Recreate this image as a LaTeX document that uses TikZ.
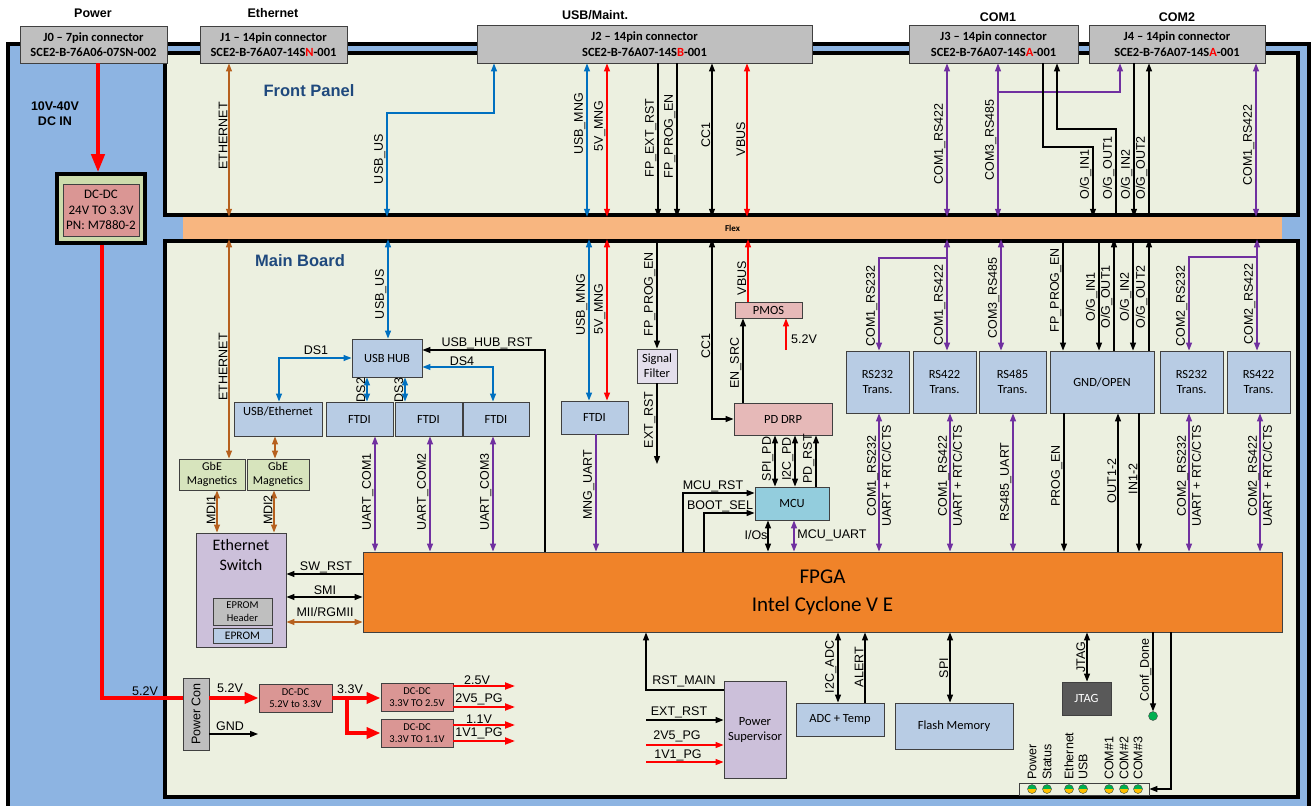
\documentclass[tikz,border=0pt]{standalone}
\usepackage{fontspec}
\setmainfont{Carlito}
\newfontfamily\arialf{Liberation Sans}
\usepackage{tikz}
\usetikzlibrary{arrows.meta,calc}

\definecolor{framebl}{RGB}{141,180,226}
\definecolor{panelbg}{RGB}{236,240,224}
\definecolor{flexor}{RGB}{248,182,128}
\definecolor{fpgaor}{RGB}{240,131,41}
\definecolor{boxbl}{RGB}{184,204,228}
\definecolor{boxpk}{RGB}{230,185,184}
\definecolor{dcpk}{RGB}{218,150,148}
\definecolor{boxlv}{RGB}{204,192,218}
\definecolor{boxlvl}{RGB}{228,223,236}
\definecolor{boxgn}{RGB}{215,228,189}
\definecolor{dcgn}{RGB}{205,220,172}
\definecolor{boxgy}{RGB}{191,191,191}
\definecolor{mcubl}{RGB}{147,205,221}
\definecolor{sigbr}{RGB}{182,96,30}
\definecolor{sigpu}{RGB}{112,48,160}
\definecolor{sigbl}{RGB}{0,112,192}
\definecolor{titlebl}{RGB}{31,73,125}
\definecolor{ledgn}{RGB}{0,176,80}
\definecolor{ledyl}{RGB}{255,192,0}

\newcommand\sigfont{\arialf\fontsize{12.5}{15}\selectfont}
\newcommand\boxfont{\fontsize{12.5}{15}\selectfont}
\newcommand\smallbox{\fontsize{10.5}{12.5}\selectfont}
\newcommand\jfont{\bfseries\fontsize{12.5}{15.5}\selectfont}
\newcommand\ttlfont{\arialf\bfseries\fontsize{12.5}{15}\selectfont}
\newcommand\bigttl{\arialf\bfseries\fontsize{16.5}{20}\selectfont}

\begin{document}
\begin{tikzpicture}[x=1pt,y=-1pt,>={Triangle[length=8pt,width=6pt]}]
\tikzset{
	panel/.style = {draw, line width=3.5pt, fill=panelbg, inner sep=0},
	box/.style = {draw=black!75, line width=0.9pt, inner sep=1pt, align=center, font=\boxfont},
	sz/.style 2 args = {minimum width=#1, minimum height=#2},
	jbox/.style = {box, fill=boxgy, font=\jfont},
	blbox/.style = {box, fill=boxbl},
	pkbox/.style = {box, fill=boxpk},
	dcbox/.style = {box, fill=dcpk, font=\smallbox},
	lvbox/.style = {box, fill=boxlv},
	gnbox/.style = {box, fill=boxgn, font=\fontsize{12}{14}\selectfont},
	sig/.style = {line width=1.2pt},
	bsig/.style = {sig, sigbl},
	rsig/.style = {sig, red},
	psig/.style = {sig, sigpu},
	brsig/.style = {sig, sigbr},
	pwr/.style = {red, line width=4pt},
	ptip/.style = {-{Triangle[length=14pt,width=11pt]}},
	rtip/.style = {red, line width=2pt, -{Triangle[length=10pt,width=7pt]}},
	vl/.style = {rotate=90, anchor=south, inner sep=1.5pt, font=\sigfont},
	hl/.style = {inner sep=1pt, font=\sigfont},
	ttl/.style = {font=\ttlfont, align=center},
	led/.style = {circle, draw=black!70, fill=ledgn, minimum size=9pt, inner sep=0,
		path picture={\fill[ledyl] (path picture bounding box.west) rectangle (path picture bounding box.south east);}},
}

\useasboundingbox (0,0) rectangle (1313,805);
\clip (0,0) rectangle (1313,805);
\fill[white] (0,0) rectangle (1313,805);

% chassis, front panel, flex, main board
\draw[line width=3.5pt, fill=framebl] (8,44) rectangle (1309,840);
\node[fill=flexor, inner sep=0, sz={1099}{26}, font=\bfseries\fontsize{9}{10}\selectfont] (flex) at (732.5,228) {Flex};
\node[panel, sz={1133}{162}] (fp) at (731.5,134) {};
\node[panel, sz={1133}{556}] (mb) at (731.5,519) {};
\node[font=\bigttl, text=titlebl] (fptitle) at (309,91) {Front Panel};
\node[font=\bigttl, text=titlebl] (mbtitle) at (300,261) {Main Board};

% connectors on top
\node[ttl] (tpow) at (93,13) {Power};
\node[ttl] (teth) at (273,13) {Ethernet};
\node[ttl] (tusb) at (595,15) {USB/Maint.};
\node[ttl] (tcom1) at (998,17) {COM1};
\node[ttl] (tcom2) at (1177,17) {COM2};
\node[jbox, sz={147}{37}] (j0) at (93.5,44.5) {J0 – 7pin connector\\SCE2-B-76A06-07SN-002};
\node[jbox, sz={147}{37}] (j1) at (273.5,44.5) {J1 – 14pin connector\\SCE2-B-76A07-14S\textcolor{red}{N}-001};
\node[jbox, sz={335}{38}] (j2) at (644.5,44) {J2 – 14pin connector\\SCE2-B-76A07-14S\textcolor{red}{B}-001};
\node[jbox, sz={169}{38}] (j3) at (993.5,44) {J3 – 14pin connector\\SCE2-B-76A07-14S\textcolor{red}{A}-001};
\node[jbox, sz={176}{38}] (j4) at (1177,44) {J4 – 14pin connector\\SCE2-B-76A07-14S\textcolor{red}{A}-001};

% power input
\node[ttl] (vin) at (55,114) {10V-40V\\DC IN};
\node[draw, line width=3.5pt, fill=dcgn, sz={88}{69}] (dcin) at (101,208.5) {};
\node[box, fill=dcpk, sz={76}{52}, font=\fontsize{13}{15.5}\selectfont] (dcinm) at (101,210) {DC-DC\\24V TO 3.3V\\PN: M7880-2};
\draw[pwr, -{Triangle[length=18pt,width=13pt]}] (98,0 |- j0.south) -- (98,0 |- dcin.north);

% main board blocks
\node[blbox, sz={70}{38}] (hub) at (387,358) {USB HUB};
\node[blbox, sz={88}{34}, text depth=16pt] (usbeth) at (278,419) {USB/Ethernet};
\node[blbox, sz={67}{34}] (ftdi1) at (359.5,419) {FTDI};
\node[blbox, sz={67}{34}] (ftdi2) at (428.5,419) {FTDI};
\node[blbox, sz={66}{34}] (ftdi3) at (496,419) {FTDI};
\node[blbox, sz={67}{33}] (ftdim) at (594.5,417.5) {FTDI};
\node[gnbox, sz={66}{31}] (gbe1) at (212,474.5) {GbE\\Magnetics};
\node[gnbox, sz={62}{31}] (gbe2) at (278,474.5) {GbE\\Magnetics};
\node[lvbox, sz={90}{114}] (ethsw) at (241,590) {};
\node[align=center, font=\fontsize{16}{20}\selectfont] (ethswt) at (241,555) {Ethernet\\Switch};
\node[box, fill=boxgy, sz={59}{27}, font=\fontsize{10.5}{12.5}\selectfont] (eprh) at (242.5,611.5) {EPROM\\Header};
\node[blbox, sz={59}{15}, font=\fontsize{11.5}{13}\selectfont] (eprom) at (242.5,635.5) {EPROM};
\node[box, fill=boxlvl, sz={40}{34}] (sigf) at (657,366) {Signal\\Filter};
\node[pkbox, sz={67}{16}] (pmos) at (768.5,310) {PMOS};
\node[pkbox, sz={98}{32}] (pddrp) at (783,419) {PD DRP};
\node[box, fill=mcubl, sz={74}{33}] (mcu) at (792,503.5) {MCU};
\node[blbox, sz={63}{62}] (rs232a) at (877.5,382) {RS232\\Trans.};
\node[blbox, sz={63}{62}] (rs422a) at (944.5,382) {RS422\\Trans.};
\node[blbox, sz={67}{62}] (rs485) at (1012.5,382) {RS485\\Trans.};
\node[blbox, sz={104}{62}] (gndopen) at (1102,382) {GND/OPEN};
\node[blbox, sz={63}{62}] (rs232b) at (1191.5,382) {RS232\\Trans.};
\node[blbox, sz={63}{62}] (rs422b) at (1258.5,382) {RS422\\Trans.};
\node[box, fill=fpgaor, sz={919}{80}, font=\fontsize{21}{28}\selectfont] (fpga) at (822.5,592) {FPGA\\Intel Cyclone V E};
\node[box, fill=boxgy, sz={26}{72}] (pcon) at (196,714) {};
\node[rotate=90, font=\sigfont] (pcont) at (196,714) {Power Con};
\node[dcbox, sz={73}{28}] (dcdc1) at (295.5,698) {DC-DC\\5.2V to 3.3V};
\node[dcbox, sz={72}{28}] (dcdc2) at (417,697) {DC-DC\\3.3V TO 2.5V};
\node[dcbox, sz={72}{28}] (dcdc3) at (417,733) {DC-DC\\3.3V TO 1.1V};
\node[lvbox, sz={62}{97}] (psup) at (755,729.5) {Power\\Supervisor};
\node[blbox, sz={88}{33}] (adc) at (840,719.5) {ADC + Temp};
\node[blbox, sz={118}{46}] (flash) at (954,726) {Flash Memory};
\node[box, fill=black!65, text=white, sz={49}{33}] (jtag) at (1086.5,698.5) {JTAG};
\node[box, fill=panelbg, inner sep=0, sz={130}{12}] (ledbar) at (1084,789) {};
\foreach \x [count=\i] in {1032,1047,1069,1083,1109,1124,1138}
	\node[led] (led\i) at (\x,789) {};
\foreach \x/\t [count=\i] in {1032/Power,1047/Status,1069/Ethernet,1083/USB,1109/COM\#1,1124/COM\#2,1138/COM\#3}
	\node[rotate=90, anchor=west, inner sep=1pt, font=\sigfont] (ledt\i) at (\x,781) {\t};
\node[led, path picture={}] (confled) at (1153,716) {};

% free ends
\coordinate (r485br) at (998,92);
\coordinate (c1br) at (947,258);
\coordinate (c2br) at (1257,257);
\coordinate (extrst) at (657,464);
\coordinate (pmos52) at (786,350);
\coordinate (gndend) at (258,734);
\coordinate (v33br) at (347,698);
\coordinate (extin) at (646,720);
\coordinate (pg25in) at (646,745);
\coordinate (pg11in) at (646,762);
\coordinate (o25) at (515,686);
\coordinate (o25pg) at (515,707);
\coordinate (o11) at (515,725);
\coordinate (o11pg) at (515,741);

% front panel signals
\draw[brsig,<->] (229,0 |- j1.south) -- (229,0 |- fp.south);
\draw[bsig,<->] (494,0 |- j2.south) |- (387,113) -- (387,0 |- fp.south);
\draw[bsig,<->] (587,0 |- j2.south) -- (587,0 |- fp.south);
\draw[rsig,<->] (607,0 |- j2.south) -- (607,0 |- fp.south);
\draw[sig,->] (658,0 |- j2.south) -- (658,0 |- fp.south);
\draw[sig,->] (677,0 |- j2.south) -- (677,0 |- fp.south);
\draw[sig,<->] (712,0 |- j2.south) -- (712,0 |- fp.south);
\draw[rsig,<->] (747,0 |- j2.south) -- (747,0 |- fp.south);
\draw[psig,<->] (947,0 |- j3.south) -- (947,0 |- fp.south);
\draw[psig,<->] (998,0 |- j3.south) -- (998,0 |- fp.south);
\draw[psig,->] (r485br) -| (1120,0 |- j4.south);
\draw[sig,->] (1043,0 |- j3.south) |- (1093,147) -- (1093,0 |- fp.south);
\draw[sig,->] (1116,0 |- fp.south) |- (1057,129) -- (1057,0 |- j3.south);
\draw[sig,->] (1134,0 |- j4.south) -- (1134,0 |- fp.south);
\draw[sig,->] (1149,0 |- fp.south) -- (1149,0 |- j4.south);
\draw[psig,<->] (1256,0 |- j4.south) -- (1256,0 |- fp.south);

\node[vl] (l1) at (229,136) {ETHERNET};
\node[vl] (l2) at (387,159) {USB\_US};
\node[vl] (l3) at (587,124) {USB\_MNG};
\node[vl] (l4) at (607,126) {5V\_MNG};
\node[vl] (l5) at (658,138) {FP\_EXT\_RST};
\node[vl] (l6) at (677,136) {FP\_PROG\_EN};
\node[vl] (l7) at (712,135) {CC1};
\node[vl] (l8) at (747,139) {VBUS};
\node[vl] (l9) at (947,144) {COM1\_RS422};
\node[vl] (l10) at (998,140) {COM3\_RS485};
\node[vl, anchor=south west] (l11) at (1093,201) {O/G\_IN1};
\node[vl, anchor=south west] (l12) at (1116,201) {O/G\_OUT1};
\node[vl, anchor=south west] (l13) at (1134,201) {O/G\_IN2};
\node[vl, anchor=south west] (l14) at (1149,201) {O/G\_OUT2};
\node[vl] (l15) at (1256,145) {COM1\_RS422};

% main board signals, left part
\draw[brsig,<->] (229,0 |- mb.north) -- (229,0 |- gbe1.north);
\draw[brsig,<->] (275,0 |- usbeth.south) -- (275,0 |- gbe2.north);
\draw[brsig,<->] (217,0 |- gbe1.south) -- (217,0 |- ethsw.north);
\draw[brsig,<->] (274,0 |- gbe2.south) -- (274,0 |- ethsw.north);
\draw[bsig,<->] (388,0 |- mb.north) -- (388,0 |- hub.north);
\draw[bsig,<->] (hub.west) -| (279,0 |- usbeth.north);
\draw[bsig,<->] ([yshift=-9pt]hub.east) -| (493,0 |- ftdi3.north);
\draw[bsig,<->] (367,0 |- hub.south) -- (367,0 |- ftdi1.north);
\draw[bsig,<->] (405,0 |- hub.south) -- (405,0 |- ftdi2.north);
\draw[sig,->] (545,0 |- fpga.north) |- ([yshift=8pt]hub.east);
\draw[psig,<->] (375,0 |- ftdi1.south) -- (375,0 |- fpga.north);
\draw[psig,<->] (430,0 |- ftdi2.south) -- (430,0 |- fpga.north);
\draw[psig,<->] (493,0 |- ftdi3.south) -- (493,0 |- fpga.north);
\draw[sig,->] (fpga.west |- 0,574) -- (ethsw.east |- 0,574);
\draw[sig,<->] (fpga.west |- 0,597) -- (ethsw.east |- 0,597);
\draw[brsig,<->] (fpga.west |- 0,622) -- (ethsw.east |- 0,622);

\node[vl] (l16) at (229,367) {ETHERNET};
\node[vl] (l17) at (388,294) {USB\_US};
\node[vl] (l18) at (367,390) {DS2};
\node[vl] (l19) at (405,390) {DS3};
\node[vl] (l20) at (375,492) {UART\_COM1};
\node[vl] (l21) at (430,492) {UART\_COM2};
\node[vl] (l22) at (493,492) {UART\_COM3};
\node[vl] (l23) at (217,510) {MDI1};
\node[vl] (l24) at (274,510) {MDI2};
\node[hl] (l25) at (316,350) {DS1};
\node[hl] (l26) at (462,361) {DS4};
\node[hl] (l27) at (487,343) {USB\_HUB\_RST};
\node[hl] (l28) at (326,567) {SW\_RST};
\node[hl] (l29) at (325,590) {SMI};
\node[hl] (l30) at (325,612) {MII/RGMII};

% main board signals, USB/maintenance part
\draw[bsig,<->] (589,0 |- mb.north) -- (589,0 |- ftdim.north);
\draw[rsig,<->] (607,0 |- mb.north) -- (607,0 |- ftdim.north);
\draw[psig,->] (596,0 |- ftdim.south) -- (596,0 |- fpga.north);
\draw[sig,->] (657,0 |- mb.north) -- (sigf.north);
\draw[sig,->] (sigf.south) -- (extrst);
\draw[sig,<->] (712,0 |- mb.north) |- (pddrp.west);
\draw[rsig,->] (748,0 |- pmos.north) -- (748,0 |- mb.north);
\draw[rsig,->] (pmos52) -- (786,0 |- pmos.south);
\draw[sig,->] (743,0 |- pddrp.north) -- (743,0 |- pmos.south);
\draw[sig,<->] (775,0 |- mcu.north) -- (775,0 |- pddrp.south);
\draw[sig,<->] (795,0 |- mcu.north) -- (795,0 |- pddrp.south);
\draw[sig,->] (816,0 |- mcu.north) -- (816,0 |- pddrp.south);
\draw[sig,->] (683,0 |- fpga.north) |- ([yshift=10.5pt]mcu.west);
\draw[sig,->] (704,0 |- fpga.north) |- ([yshift=-9.5pt]mcu.west);
\draw[sig,<->] (768,0 |- mcu.south) -- (768,0 |- fpga.north);
\draw[psig,<->] (794,0 |- mcu.south) -- (794,0 |- fpga.north);

\node[vl] (l31) at (589,305) {USB\_MNG};
\node[vl] (l32) at (607,309) {5V\_MNG};
\node[vl] (l33) at (596,485) {MNG\_UART};
\node[vl] (l34) at (657,294) {FP\_PROG\_EN};
\node[vl] (l35) at (657,420) {EXT\_RST};
\node[vl] (l36) at (712,346) {CC1};
\node[vl] (l37) at (748,278) {VBUS};
\node[vl] (l38) at (743,363) {EN\_SRC};
\node[vl] (l39) at (775,459) {SPI\_PD};
\node[vl] (l40) at (795,459) {I2C\_PD};
\node[vl] (l41) at (816,459) {PD\_RST};
\node[hl, anchor=west] (l42) at (790,339) {5.2V};
\node[hl] (l43) at (713,486) {MCU\_RST};
\node[hl] (l44) at (720,506) {BOOT\_SEL};
\node[hl] (l45) at (756,535) {I/Os};
\node[hl] (l46) at (832,535) {MCU\_UART};

% main board signals, COM part
\draw[psig,->] (c1br) -| (879,0 |- rs232a.north);
\draw[psig,<->] (947,0 |- mb.north) -- (947,0 |- rs422a.north);
\draw[psig,<->] (1001,0 |- mb.north) -- (1001,0 |- rs485.north);
\draw[sig,->] (1063,0 |- mb.north) -- (1063,0 |- gndopen.north);
\draw[sig,->] (1099,0 |- mb.north) -- (1099,0 |- gndopen.north);
\draw[sig,->] (1114,0 |- gndopen.north) -- (1114,0 |- mb.north);
\draw[sig,->] (1133,0 |- mb.north) -- (1133,0 |- gndopen.north);
\draw[sig,->] (1149,0 |- gndopen.north) -- (1149,0 |- mb.north);
\draw[psig,->] (c2br) -| (1189,0 |- rs232b.north);
\draw[psig,<->] (1257,0 |- mb.north) -- (1257,0 |- rs422b.north);
\draw[psig,<->] (879,0 |- rs232a.south) -- (879,0 |- fpga.north);
\draw[psig,<->] (950,0 |- rs422a.south) -- (950,0 |- fpga.north);
\draw[psig,<->] (1013,0 |- rs485.south) -- (1013,0 |- fpga.north);
\draw[sig,->] (1064,0 |- gndopen.south) -- (1064,0 |- fpga.north);
\draw[sig,->] (1118,0 |- fpga.north) -- (1118,0 |- gndopen.south);
\draw[sig,->] (1139,0 |- gndopen.south) -- (1139,0 |- fpga.north);
\draw[psig,<->] (1189,0 |- rs232b.south) -- (1189,0 |- fpga.north);
\draw[psig,<->] (1260,0 |- rs422b.south) -- (1260,0 |- fpga.north);

\node[vl] (l47) at (879,306) {COM1\_RS232};
\node[vl] (l48) at (947,305) {COM1\_RS422};
\node[vl] (l49) at (1001,298) {COM3\_RS485};
\node[vl] (l50) at (1063,290) {FP\_PROG\_EN};
\node[vl] (l51) at (1099,297) {O/G\_IN1};
\node[vl] (l52) at (1114,297) {O/G\_OUT1};
\node[vl] (l53) at (1133,297) {O/G\_IN2};
\node[vl] (l54) at (1149,297) {O/G\_OUT2};
\node[vl] (l55) at (1189,306) {COM2\_RS232};
\node[vl] (l56) at (1257,304) {COM2\_RS422};
\node[vl, anchor=center, align=center] (l57) at (879,476) {COM1\_RS232\\UART + RTC/CTS};
\node[vl, anchor=center, align=center] (l58) at (950,476) {COM1\_RS422\\UART + RTC/CTS};
\node[vl] (l59) at (1013,482) {RS485\_UART};
\node[vl] (l60) at (1064,476) {PROG\_EN};
\node[vl] (l61) at (1118,481) {OUT1-2};
\node[vl] (l62) at (1139,479) {IN1-2};
\node[vl, anchor=center, align=center] (l63) at (1189,476) {COM2\_RS232\\UART + RTC/CTS};
\node[vl, anchor=center, align=center] (l64) at (1260,476) {COM2\_RS422\\UART + RTC/CTS};

% below the FPGA
\draw[sig,->] (psup.west |- 0,690) -| (646,0 |- fpga.south);
\draw[sig,->] (extin) -- (psup.west |- extin);
\draw[rsig,->] (pg25in) -- (psup.west |- pg25in);
\draw[rsig,->] (pg11in) -- (psup.west |- pg11in);
\draw[sig,<->] (838,0 |- adc.north) -- (838,0 |- fpga.south);
\draw[sig,->] (865,0 |- adc.north) -- (865,0 |- fpga.south);
\draw[sig,<->] (950,0 |- flash.north) -- (950,0 |- fpga.south);
\draw[sig,<->] (1087,0 |- jtag.north) -- (1087,0 |- fpga.south);
\draw[sig,->] (1153,0 |- fpga.south) -- (confled.north);
\draw[sig,->] (1171,0 |- fpga.south) |- (ledbar.east);

\node[hl] (l65) at (684,681) {RST\_MAIN};
\node[hl] (l66) at (679,712) {EXT\_RST};
\node[hl] (l67) at (677,736) {2V5\_PG};
\node[hl] (l68) at (678,755) {1V1\_PG};
\node[vl] (l69) at (838,667) {I2C\_ADC};
\node[vl] (l70) at (865,667) {ALERT};
\node[vl] (l71) at (950,668) {SPI};
\node[vl] (l72) at (1087,657) {JTAG};
\node[vl] (l73) at (1153,670) {Conf\_Done};

% power distribution
\draw[pwr] (102,0 |- dcin.south) |- (pcon.west |- 0,698);
\draw[pwr, ptip] (pcon.east |- dcdc1.west) -- (dcdc1.west);
\draw[sig,->] (pcon.east |- gndend) -- (gndend);
\draw[pwr, ptip] (dcdc1.east) -- (dcdc1.east -| dcdc2.west);
\draw[pwr, ptip] (v33br) |- (dcdc3.west);
\draw[rtip] (dcdc2.east |- o25) -- (o25);
\draw[rtip] (dcdc2.east |- o25pg) -- (o25pg);
\draw[rtip] (dcdc3.east |- o11) -- (o11);
\draw[rtip] (dcdc3.east |- o11pg) -- (o11pg);

\node[hl] (l74) at (145,691) {5.2V};
\node[hl] (l75) at (230,688) {5.2V};
\node[hl] (l76) at (230,726) {GND};
\node[hl] (l77) at (350,689) {3.3V};
\node[hl] (l78) at (477,680) {2.5V};
\node[hl] (l79) at (479,699) {2V5\_PG};
\node[hl] (l80) at (479,719) {1.1V};
\node[hl] (l81) at (479,733) {1V1\_PG};

\end{tikzpicture}
\end{document}
